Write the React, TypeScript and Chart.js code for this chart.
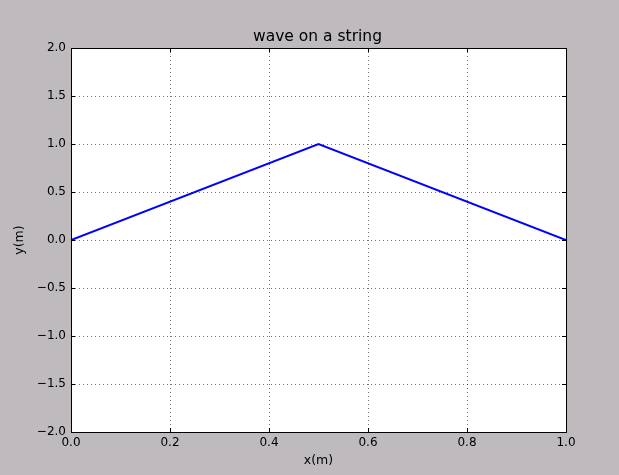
import React, { useEffect, useRef } from "react";
import { Chart, registerables } from "chart.js";

Chart.register(...registerables);

const xValues = [0, 0.5, 1];
const yValues = [0, 1, 0];
const xRange = [0, 1];
const yRange = [-2, 2];
const xStep = 0.2;
const yStep = 0.5;
const titleText = "wave on a string";
const xLabel = "x(m)";
const yLabel = "y(m)";

const fmt = (v: number) => (v < 0 ? "\u2212" + Math.abs(v).toFixed(1) : v.toFixed(1));

const framePlugin = {
  id: "frame",
  beforeDraw(chart: any) {
    const { ctx, chartArea: a, width, height } = chart;
    ctx.save();
    ctx.fillStyle = "rgb(190,186,190)";
    ctx.fillRect(0, 0, width, height);
    ctx.fillStyle = "#ffffff";
    ctx.fillRect(a.left, a.top, a.right - a.left, a.bottom - a.top);
    ctx.restore();
  },
  afterDraw(chart: any) {
    const { ctx, chartArea: a, scales } = chart;
    ctx.save();
    ctx.strokeStyle = "#000";
    ctx.lineWidth = 1;
    const tl = 4;
    scales.x.ticks.forEach((t: any) => {
      const x = Math.round(scales.x.getPixelForValue(t.value)) + 0.5;
      ctx.beginPath();
      ctx.moveTo(x, a.bottom);
      ctx.lineTo(x, a.bottom - tl);
      ctx.moveTo(x, a.top);
      ctx.lineTo(x, a.top + tl);
      ctx.stroke();
    });
    scales.y.ticks.forEach((t: any) => {
      const y = Math.round(scales.y.getPixelForValue(t.value)) + 0.5;
      ctx.beginPath();
      ctx.moveTo(a.left, y);
      ctx.lineTo(a.left + tl, y);
      ctx.moveTo(a.right, y);
      ctx.lineTo(a.right - tl, y);
      ctx.stroke();
    });
    ctx.strokeStyle = "#000";
    ctx.lineWidth = 1;
    ctx.strokeRect(Math.round(a.left) + 0.5, Math.round(a.top) + 0.5, Math.round(a.right - a.left), Math.round(a.bottom - a.top));
    ctx.fillStyle = "#000";
    ctx.textAlign = "center";
    ctx.textBaseline = "middle";
    ctx.font = "15.5px 'DejaVu Sans'";
    ctx.fillText(titleText, (a.left + a.right) / 2 - 1, 37);
    ctx.font = "12.5px 'DejaVu Sans'";
    ctx.fillText(xLabel, (a.left + a.right) / 2, 461);
    ctx.translate(20, (a.top + a.bottom) / 2);
    ctx.rotate(-Math.PI / 2);
    ctx.fillText(yLabel, 0, 0);
    ctx.restore();
  },
};

export default function App() {
  const ref = useRef<HTMLCanvasElement>(null);
  useEffect(() => {
    document.body.style.margin = "0";
    const chart = new Chart(ref.current!, {
      type: "line",
      data: {
        datasets: [
          {
            data: xValues.map((x, i) => ({ x, y: yValues[i] })),
            borderColor: "#0000ff",
            borderWidth: 2,
            pointRadius: 0,
            fill: false,
            tension: 0,
          },
        ],
      },
      options: {
        responsive: false,
        animation: false,
        layout: { padding: { top: 48, right: 53, bottom: 0, left: 0 } },
        plugins: { legend: { display: false }, title: { display: false }, tooltip: { enabled: false } },
        scales: {
          x: {
            type: "linear",
            min: xRange[0],
            max: xRange[1],
            ticks: {
              stepSize: xStep,
              callback: (v: any) => fmt(Number(v)),
              color: "#000",
              font: { family: "'DejaVu Sans'", size: 12 },
              padding: 4,
              maxRotation: 0,
            },
            grid: { color: "rgba(0,0,0,0.55)", lineWidth: 1, drawTicks: false },
            border: { display: false, dash: [1, 3] },
            afterFit: (s: any) => {
              s.height = 43;
            },
          },
          y: {
            type: "linear",
            min: yRange[0],
            max: yRange[1],
            ticks: {
              stepSize: yStep,
              callback: (v: any) => fmt(Number(v)),
              color: "#000",
              font: { family: "'DejaVu Sans'", size: 12 },
              padding: 5,
            },
            grid: { color: "rgba(0,0,0,0.55)", lineWidth: 1, drawTicks: false },
            border: { display: false, dash: [1, 3] },
            afterFit: (s: any) => {
              s.width = 71;
            },
          },
        },
      } as any,
      plugins: [framePlugin],
    });
    return () => chart.destroy();
  }, []);
  return <canvas ref={ref} width={619} height={475} style={{ display: "block" }} />;
}
